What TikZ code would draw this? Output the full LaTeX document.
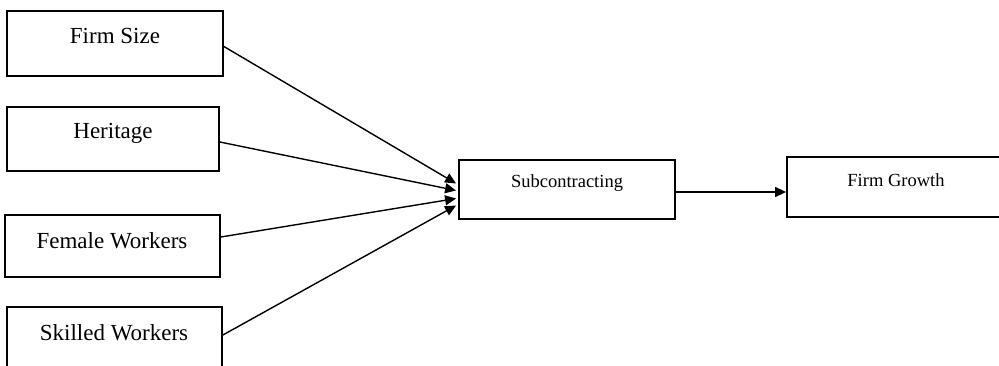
\documentclass[tikz,border=0pt]{standalone}
\usepackage{fontspec}
\setmainfont{Liberation Serif}
\usetikzlibrary{arrows.meta}
\begin{document}
\begin{tikzpicture}[x=1pt,y=-1pt,
  box/.style={draw=black,line width=1.8pt,minimum width=#1,inner sep=0pt},
  lbl/.style={font=\fontsize{23}{26}\selectfont,inner sep=0pt},
  rlbl/.style={font=\fontsize{18.5}{22}\selectfont,inner sep=0pt},
  conn/.style={draw=black,line width=1.4pt,-{Triangle[length=11pt,width=10pt]}}]
\useasboundingbox (0,0) rectangle (999,366);
\clip (0,0) rectangle (999,366);
\node[box=216pt,minimum height=65pt] (b1) at (115,43.5) {};
\node[box=212pt,minimum height=64pt] (b2) at (113,139) {};
\node[box=215pt,minimum height=62pt] (b3) at (112.5,246) {};
\node[box=215pt,minimum height=66pt] (b4) at (114.5,340) {};
\node[box=216pt,minimum height=59pt] (sub) at (567,189.5) {};
\node[box=220pt,minimum height=60pt] (fg) at (897,187) {};
\node[lbl] (t1) at (115,36) {Firm Size};
\node[lbl] (t2) at (113,133) {Heritage};
\node[lbl] (t3) at (112,241) {Female Workers};
\node[lbl] (t4) at (114,333) {Skilled Workers};
\node[rlbl] (t5) at (567,183) {Subcontracting};
\node[rlbl] (t6) at (896,180) {Firm Growth};
\coordinate (e1) at ([yshift=-3pt]b1.east);
\coordinate (e2) at ([yshift=-3pt]b2.east);
\coordinate (e3) at ([yshift=9pt]b3.east);
\coordinate (e4) at ([yshift=5pt]b4.east);
\coordinate (p1) at ([xshift=-2pt,yshift=6pt]sub.west);
\coordinate (p2) at ([xshift=-2pt,yshift=-1pt]sub.west);
\coordinate (p3) at ([xshift=-2pt,yshift=-9pt]sub.west);
\coordinate (p4) at ([xshift=-2pt,yshift=-16pt]sub.west);
\draw[conn] (e1) -- (p1);
\draw[conn] (e2) -- (p2);
\draw[conn] (e3) -- (p3);
\draw[conn] (e4) -- (p4);
\coordinate (s1) at ([yshift=-2.5pt]sub.east);
\draw[conn] (s1) -- (s1 -| fg.west);
\end{tikzpicture}
\end{document}
